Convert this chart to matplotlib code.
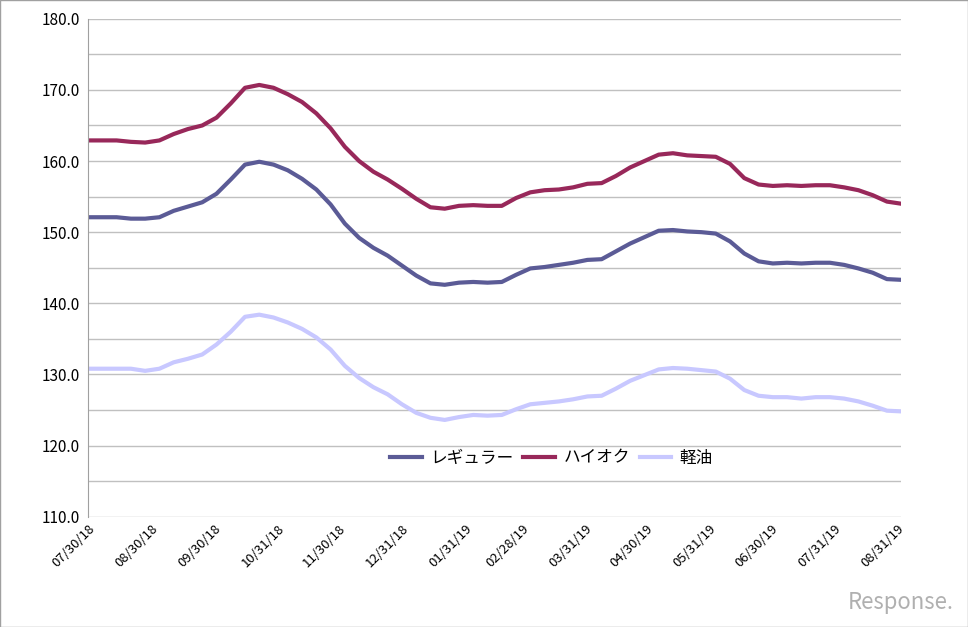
import matplotlib

matplotlib.use("Agg")
import matplotlib.pyplot as plt
import numpy as np
import pandas as pd

dates = pd.date_range("2018-07-30", periods=58, freq="7D")

regular = [152.1, 152.1, 152.1, 151.9, 151.9, 152.1, 153.0, 153.6, 154.2, 155.4,
           157.4, 159.5, 159.9, 159.5, 158.7, 157.5, 156.0, 153.9, 151.2, 149.2,
           147.8, 146.7, 145.3, 143.9, 142.8, 142.6, 142.9, 143.0, 142.9, 143.0,
           144.0, 144.9, 145.1, 145.4, 145.7, 146.1, 146.2, 147.3, 148.4, 149.3,
           150.2, 150.3, 150.1, 150.0, 149.8, 148.7, 147.0, 145.9, 145.6, 145.7,
           145.6, 145.7, 145.7, 145.4, 144.9, 144.3, 143.4, 143.3]
premium = [162.9, 162.9, 162.9, 162.7, 162.6, 162.9, 163.8, 164.5, 165.0, 166.1,
           168.1, 170.3, 170.7, 170.3, 169.4, 168.3, 166.7, 164.6, 162.0, 160.0,
           158.5, 157.4, 156.1, 154.7, 153.5, 153.3, 153.7, 153.8, 153.7, 153.7,
           154.8, 155.6, 155.9, 156.0, 156.3, 156.8, 156.9, 157.9, 159.1, 160.0,
           160.9, 161.1, 160.8, 160.7, 160.6, 159.6, 157.6, 156.7, 156.5, 156.6,
           156.5, 156.6, 156.6, 156.3, 155.9, 155.2, 154.3, 154.0]
diesel = [130.8, 130.8, 130.8, 130.8, 130.5, 130.8, 131.7, 132.2, 132.8, 134.2,
          136.0, 138.1, 138.4, 138.0, 137.3, 136.4, 135.2, 133.5, 131.2, 129.5,
          128.2, 127.2, 125.8, 124.6, 123.9, 123.6, 124.0, 124.3, 124.2, 124.3,
          125.1, 125.8, 126.0, 126.2, 126.5, 126.9, 127.0, 128.0, 129.1, 129.9,
          130.7, 130.9, 130.8, 130.6, 130.4, 129.4, 127.8, 127.0, 126.8, 126.8,
          126.6, 126.8, 126.8, 126.6, 126.2, 125.6, 124.9, 124.8]

tick_dates = pd.to_datetime(["2018-07-30", "2018-08-30", "2018-09-30", "2018-10-31",
                             "2018-11-30", "2018-12-31", "2019-01-31", "2019-02-28",
                             "2019-03-31", "2019-04-30", "2019-05-31", "2019-06-30",
                             "2019-07-31", "2019-08-31"])
tick_labels = [d.strftime("%m/%d/%y") for d in tick_dates]

plt.rcParams["font.family"] = ["Noto Sans CJK JP"]
fig = plt.figure(figsize=(9.68, 6.27), dpi=100)
ax = fig.add_axes([0.091, 0.176, 0.84, 0.794])

ax.plot(dates, regular, color="#5b5b96", lw=3, label="レギュラー")
ax.plot(dates, premium, color="#98285a", lw=3, label="ハイオク")
ax.plot(dates, diesel, color="#c8c8ff", lw=3, label="軽油")

ax.set_ylim(110, 180)
ax.set_yticks(np.arange(110, 181, 10))
ax.set_yticklabels([f"{v:.1f}" for v in np.arange(110, 181, 10)], fontsize=11)
ax.set_yticks(np.arange(115, 180, 10), minor=True)
ax.grid(axis="y", which="both", color="#c0c0c0", lw=1)
ax.set_axisbelow(True)
ax.tick_params(axis="y", which="both", length=0, pad=6)

ax.set_xlim(dates[0], dates[-1])
ax.set_xticks(tick_dates)
ax.set_xticklabels(tick_labels, rotation=45, ha="right", rotation_mode="anchor", fontsize=9.5)
ax.tick_params(axis="x", length=0, pad=4)

for side in ("top", "right", "bottom"):
    ax.spines[side].set_visible(False)
ax.spines["left"].set_color("#a0a0a0")

ax.legend(loc="lower center", bbox_to_anchor=(0.57, 0.07), ncol=3, frameon=False,
          fontsize=12, handlelength=1.9, handletextpad=0.5, columnspacing=0.6)

fig.text(0.985, 0.02, "Response.", ha="right", va="bottom", fontsize=16,
         color="#b0b0b0", style="italic")
fig.patches.append(plt.Rectangle((0, 0), 1, 1, transform=fig.transFigure,
                                 fill=False, edgecolor="#a0a0a0", lw=1))

fig.savefig("out.png", dpi=100)
